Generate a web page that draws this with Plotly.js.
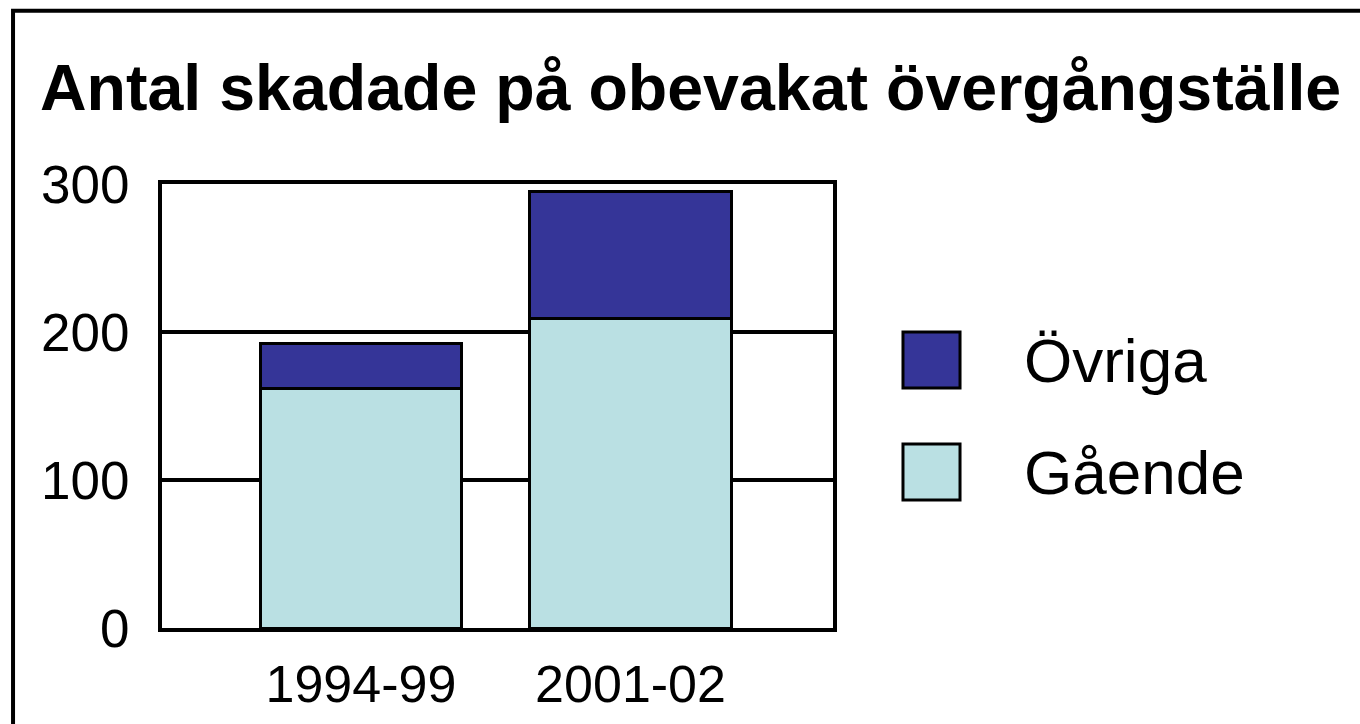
<!DOCTYPE html>
<html>
<head>
<meta charset="utf-8">
<script src="https://cdn.plot.ly/plotly-3.0.1.min.js"></script>
<style>html,body{margin:0;padding:0;background:#fff;}#chart{width:1360px;height:724px;}</style>
</head>
<body>
<div id="chart"></div>
<script>
const categories = ["1994-99", "2001-02"];
const gaende = [162, 209];
const ovriga = [30, 86];
const seriesNames = ["Övriga", "Gående"];
const seriesColors = ["#353598", "#BAE0E3"];
const yTicks = [0, 100, 200, 300];

const FONT = "Liberation Sans, Arial, sans-serif";

const traces = [
  {type: "bar", x: categories, y: gaende, name: seriesNames[1], width: 0.746,
   marker: {color: seriesColors[1], line: {color: "#000", width: 3}}, showlegend: false},
  {type: "bar", x: categories, y: ovriga, name: seriesNames[0], width: 0.746,
   marker: {color: seriesColors[0], line: {color: "#000", width: 3}}, showlegend: false}
];

// legend drawn as shapes + text (paper coordinates)
const legendBoxes = [[0.5405, 0.6667], [0.2883, 0.4144]];
const shapes = [
  {type: "rect", xref: "paper", yref: "paper", x0: -0.222, x1: 2.5, y0: -1, y1: 1.39,
   line: {color: "#000", width: 4}, fillcolor: "rgba(0,0,0,0)", layer: "below"}
];
const annotations = [];
seriesNames.forEach((n, i) => {
  shapes.push({type: "rect", xref: "paper", yref: "paper", x0: 1.1043, x1: 1.1893,
    y0: legendBoxes[i][0], y1: legendBoxes[i][1],
    fillcolor: seriesColors[i], line: {color: "#000", width: 3}});
  annotations.push({xref: "paper", yref: "paper", x: 1.282,
    y: (legendBoxes[i][0] + legendBoxes[i][1]) / 2, xanchor: "left", yanchor: "middle",
    text: n, showarrow: false, font: {family: FONT, size: 62, color: "#000"}});
});

const layout = {
  width: 1360, height: 724,
  margin: {l: 162, r: 527, t: 184, b: 96},
  paper_bgcolor: "#fff", plot_bgcolor: "#fff",
  barmode: "stack",
  showlegend: false,
  title: {text: "<b>Antal skadade på obevakat övergångställe</b>", xref: "container", yref: "container",
    x: 40/1360, xanchor: "left", y: 1 - 87/724, yanchor: "middle",
    font: {family: FONT, size: 64.5, color: "#000"}},
  xaxis: {type: "category", range: [-0.738, 1.751], showline: true, mirror: true,
    linecolor: "#000", linewidth: 4, showgrid: false, ticks: "", ticklabelstandoff: 8,
    tickfont: {family: FONT, size: 52, color: "#000"}, fixedrange: true},
  yaxis: {range: [0, 300], tickvals: yTicks, showline: true, mirror: true,
    linecolor: "#000", linewidth: 4, showgrid: true, gridcolor: "#000", gridwidth: 4,
    zeroline: false, ticks: "", ticklabelstandoff: 18,
    tickfont: {family: FONT, size: 53, color: "#000"}, fixedrange: true},
  shapes: shapes,
  annotations: annotations,
  font: {family: FONT}
};

Plotly.newPlot("chart", traces, layout, {displayModeBar: false, staticPlot: true});
</script>
</body>
</html>
